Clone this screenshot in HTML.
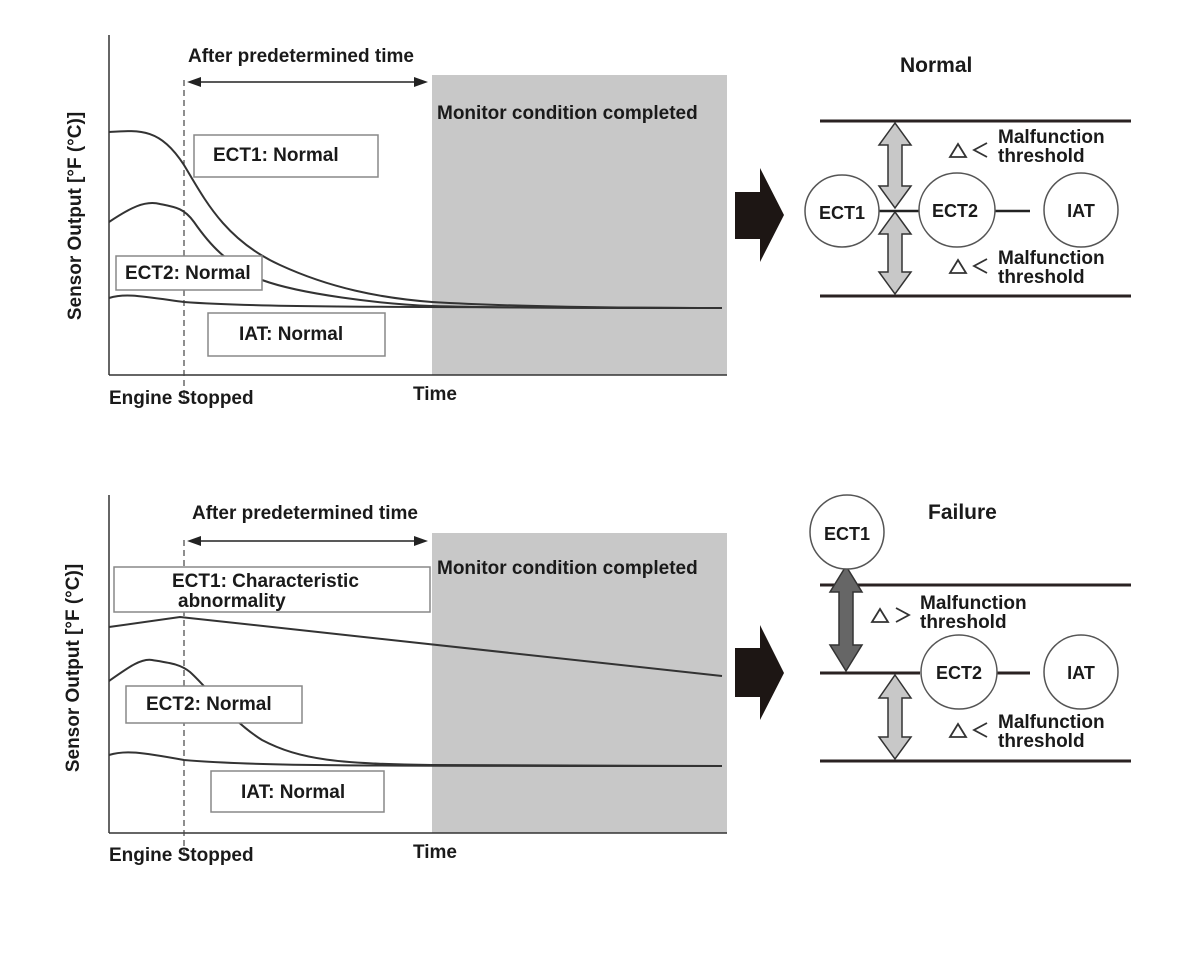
<!DOCTYPE html>
<html><head><meta charset="utf-8"><style>
html,body{margin:0;padding:0;background:#fff;}
svg text{font-family:"Liberation Sans",sans-serif;font-weight:bold;fill:#1a1a1a;}
</style></head><body>
<svg width="1200" height="966" viewBox="0 0 1200 966" xmlns="http://www.w3.org/2000/svg">

<!-- ===== TOP CHART ===== -->
<rect x="432" y="75" width="295" height="300" fill="#c8c8c8"/>
<line x1="109" y1="35" x2="109" y2="375" stroke="#333" stroke-width="1.5"/>
<line x1="109" y1="375" x2="727" y2="375" stroke="#333" stroke-width="1.5"/>
<line x1="184" y1="80" x2="184" y2="402" stroke="#444" stroke-width="1.2" stroke-dasharray="6,4"/>
<line x1="198" y1="82" x2="418" y2="82" stroke="#222" stroke-width="1.5"/>
<path d="M187,82 l14,-5 v10 z M428,82 l-14,-5 v10 z" fill="#222"/>
<text x="188" y="62" font-size="19">After predetermined time</text>
<text x="437" y="119" font-size="19">Monitor condition completed</text>
<path d="M109,132 C140,130 160,128 184,165 C205,200 225,240 280,265 C330,288 380,298 432,302 C500,306 600,308 722,308" fill="none" stroke="#333" stroke-width="2"/>
<path d="M109,222 C130,208 145,200 160,204 C175,207 184,208 194,222 C210,245 225,262 262,280 C300,294 380,304 432,306 C500,308 600,308 722,308" fill="none" stroke="#333" stroke-width="2"/>
<path d="M109,298 C125,293 140,296 184,302 C250,307 350,307 722,308" fill="none" stroke="#333" stroke-width="2"/>
<rect x="194" y="135" width="184" height="42" fill="#fff" stroke="#888" stroke-width="1.5"/>
<text x="213" y="161" font-size="19">ECT1: Normal</text>
<rect x="116" y="256" width="146" height="34" fill="#fff" stroke="#888" stroke-width="1.5"/>
<text x="125" y="279" font-size="19">ECT2: Normal</text>
<rect x="208" y="313" width="177" height="43" fill="#fff" stroke="#888" stroke-width="1.5"/>
<text x="239" y="340" font-size="19">IAT: Normal</text>
<text x="109" y="404" font-size="19">Engine Stopped</text>
<text x="413" y="400" font-size="19">Time</text>
<text transform="translate(81,216) rotate(-90)" font-size="19" text-anchor="middle">Sensor Output [°F (°C)]</text>

<path d="M735,192 H760 V168 L784,215 L760,262 V239 H735 Z" fill="#1d1614"/>

<!-- top right -->
<text x="900" y="72" font-size="21">Normal</text>
<line x1="820" y1="121" x2="1131" y2="121" stroke="#2a2222" stroke-width="3"/>
<line x1="820" y1="296" x2="1131" y2="296" stroke="#2a2222" stroke-width="3"/>
<path d="M895,123 L911,145 H902 V186 H911 L895,208 L879,186 H888 V145 H879 Z" fill="#c8c8c8" stroke="#333" stroke-width="1.5"/>
<path d="M895,212 L911,234 H902 V272 H911 L895,294 L879,272 H888 V234 H879 Z" fill="#c8c8c8" stroke="#333" stroke-width="1.5"/>
<line x1="879" y1="211" x2="920" y2="211" stroke="#222" stroke-width="2.5"/>
<line x1="995" y1="211" x2="1030" y2="211" stroke="#222" stroke-width="2.5"/>
<ellipse cx="842" cy="211" rx="37" ry="36" fill="#fff" stroke="#555" stroke-width="1.5"/>
<ellipse cx="957" cy="210" rx="38" ry="37" fill="#fff" stroke="#555" stroke-width="1.5"/>
<ellipse cx="1081" cy="210" rx="37" ry="37" fill="#fff" stroke="#555" stroke-width="1.5"/>
<text x="842" y="219" font-size="18" text-anchor="middle">ECT1</text>
<text x="955" y="217" font-size="18" text-anchor="middle">ECT2</text>
<text x="1081" y="217" font-size="18" text-anchor="middle">IAT</text>
<path d="M950,157 L958,144 L966,157 Z" fill="none" stroke="#333" stroke-width="1.8"/>
<path d="M987,143 L974,150 L987,157" fill="none" stroke="#333" stroke-width="1.8"/>
<text x="998" y="143" font-size="19">Malfunction</text>
<text x="998" y="162" font-size="19">threshold</text>
<path d="M950,273 L958,260 L966,273 Z" fill="none" stroke="#333" stroke-width="1.8"/>
<path d="M987,259 L974,266 L987,273" fill="none" stroke="#333" stroke-width="1.8"/>
<text x="998" y="264" font-size="19">Malfunction</text>
<text x="998" y="283" font-size="19">threshold</text>

<!-- ===== BOTTOM CHART ===== -->
<rect x="432" y="533" width="295" height="300" fill="#c8c8c8"/>
<line x1="109" y1="495" x2="109" y2="833" stroke="#333" stroke-width="1.5"/>
<line x1="109" y1="833" x2="727" y2="833" stroke="#333" stroke-width="1.5"/>
<line x1="184" y1="540" x2="184" y2="860" stroke="#444" stroke-width="1.2" stroke-dasharray="6,4"/>
<line x1="198" y1="541" x2="418" y2="541" stroke="#222" stroke-width="1.5"/>
<path d="M187,541 l14,-5 v10 z M428,541 l-14,-5 v10 z" fill="#222"/>
<text x="192" y="519" font-size="19">After predetermined time</text>
<text x="437" y="574" font-size="19">Monitor condition completed</text>
<path d="M109,627 L180,617 L722,676" fill="none" stroke="#333" stroke-width="2"/>
<path d="M109,681 C125,670 140,658 152,660 C170,663 180,664 190,672 C210,690 230,720 262,740 C300,760 340,764 432,765 C500,766 600,766 722,766" fill="none" stroke="#333" stroke-width="2"/>
<path d="M109,755 C125,750 140,752 184,760 C250,766 350,766 722,766" fill="none" stroke="#333" stroke-width="2"/>
<rect x="114" y="567" width="316" height="45" fill="#fff" stroke="#888" stroke-width="1.5"/>
<text x="172" y="587" font-size="19">ECT1: Characteristic</text>
<text x="178" y="607" font-size="19">abnormality</text>
<rect x="126" y="686" width="176" height="37" fill="#fff" stroke="#888" stroke-width="1.5"/>
<text x="146" y="710" font-size="19">ECT2: Normal</text>
<rect x="211" y="771" width="173" height="41" fill="#fff" stroke="#888" stroke-width="1.5"/>
<text x="241" y="798" font-size="19">IAT: Normal</text>
<text x="109" y="861" font-size="19">Engine Stopped</text>
<text x="413" y="858" font-size="19">Time</text>
<text transform="translate(79,668) rotate(-90)" font-size="19" text-anchor="middle">Sensor Output [°F (°C)]</text>

<path d="M735,648 H760 V625 L784,673 L760,720 V697 H735 Z" fill="#1d1614"/>

<!-- bottom right -->
<text x="928" y="519" font-size="21">Failure</text>
<line x1="820" y1="585" x2="1131" y2="585" stroke="#2a2222" stroke-width="3"/>
<line x1="820" y1="673" x2="920" y2="673" stroke="#2a2222" stroke-width="3"/>
<line x1="995" y1="673" x2="1030" y2="673" stroke="#2a2222" stroke-width="3"/>
<line x1="820" y1="761" x2="1131" y2="761" stroke="#2a2222" stroke-width="3"/>
<path d="M846,566 L862,592 H853 V645 H862 L846,671 L830,645 H839 V592 H830 Z" fill="#666" stroke="#333" stroke-width="1.5"/>
<path d="M895,675 L911,698 H902 V737 H911 L895,759 L879,737 H888 V698 H879 Z" fill="#c8c8c8" stroke="#333" stroke-width="1.5"/>
<ellipse cx="847" cy="532" rx="37" ry="37" fill="#fff" stroke="#555" stroke-width="1.5"/>
<ellipse cx="959" cy="672" rx="38" ry="37" fill="#fff" stroke="#555" stroke-width="1.5"/>
<ellipse cx="1081" cy="672" rx="37" ry="37" fill="#fff" stroke="#555" stroke-width="1.5"/>
<text x="847" y="540" font-size="18" text-anchor="middle">ECT1</text>
<text x="959" y="679" font-size="18" text-anchor="middle">ECT2</text>
<text x="1081" y="679" font-size="18" text-anchor="middle">IAT</text>
<path d="M872,622 L880,609 L888,622 Z" fill="none" stroke="#333" stroke-width="1.8"/>
<path d="M896,608 L909,615 L896,622" fill="none" stroke="#333" stroke-width="1.8"/>
<text x="920" y="609" font-size="19">Malfunction</text>
<text x="920" y="628" font-size="19">threshold</text>
<path d="M950,737 L958,724 L966,737 Z" fill="none" stroke="#333" stroke-width="1.8"/>
<path d="M987,723 L974,730 L987,737" fill="none" stroke="#333" stroke-width="1.8"/>
<text x="998" y="728" font-size="19">Malfunction</text>
<text x="998" y="747" font-size="19">threshold</text>
</svg>
</body></html>
